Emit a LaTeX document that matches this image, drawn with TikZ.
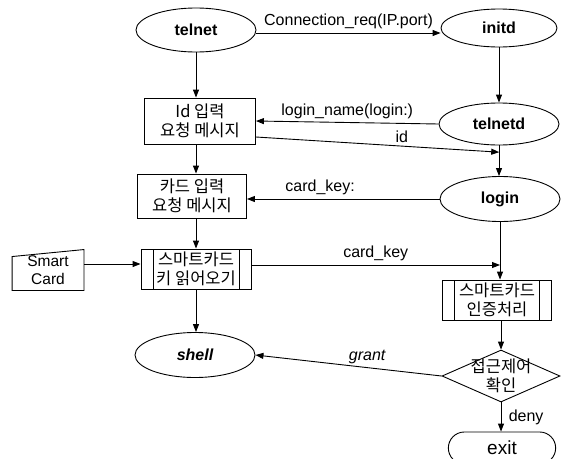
\documentclass[tikz,border=0pt]{standalone}
\usepackage{fontspec}
\setmainfont{Liberation Sans}
\newfontfamily\kr{Noto Sans CJK KR}
\usetikzlibrary{shapes.geometric,shapes.misc,arrows.meta,calc}

\begin{document}
\begin{tikzpicture}[x=1pt,y=-1pt,line width=0.9pt,
    every node/.style={font=\fontsize{16}{18}\selectfont},
    proc/.style={draw,ellipse,minimum width=120pt,minimum height=44pt,inner sep=0pt,
        font=\fontsize{16}{18}\selectfont\bfseries},
    msgbox/.style={draw,rectangle,align=center,inner sep=0pt,
        font=\fontsize{16.5}{19}\selectfont\kr},
    predef/.style={msgbox,path picture={
        \draw ([xshift=12pt]path picture bounding box.north west)
            -- ([xshift=12pt]path picture bounding box.south west)
            ([xshift=-12pt]path picture bounding box.north east)
            -- ([xshift=-12pt]path picture bounding box.south east);}},
    decision/.style={draw,diamond,minimum width=118pt,minimum height=52pt,inner sep=0pt},
    arr/.style={-{Triangle[length=8pt,width=6pt]}}
]
    \useasboundingbox (0,0) rectangle (567,458);

    \node[proc] (telnet) at (196,30) {telnet};
    \node[proc,minimum width=116pt,minimum height=38pt] (initd) at (499,28) {initd};
    \node[proc,minimum height=42pt] (telnetd) at (499,124) {telnetd};
    \node[proc,minimum height=45pt] (login) at (500,199) {login};
    \node[proc,minimum height=45pt,font=\fontsize{16}{18}\selectfont\bfseries\itshape] (shell) at (195,355) {shell};

    \node[msgbox,minimum width=111pt,minimum height=46pt] (idbox) at (200,121) {Id 입력\\요청 메시지};
    \node[msgbox,minimum width=109pt,minimum height=44pt] (cardbox) at (192,196) {카드 입력\\요청 메시지};
    \node[predef,minimum width=110pt,minimum height=40pt] (readbox) at (196,269) {스마트카드\\키 읽어오기};
    \node[predef,minimum width=109pt,minimum height=40pt] (authbox) at (497,300) {스마트카드\\인증처리};

    \node[decision,label={[font=\fontsize{16.5}{19}\selectfont\kr,align=center]center:접근제어\\확인}]
        (chk) at (501,376) {};
    \node[draw,rounded rectangle,minimum width=114pt,minimum height=32pt,
        font=\fontsize{19}{21}\selectfont] (exit) at (502,448) {exit};

    \node[minimum width=71pt,minimum height=40pt,align=center,inner sep=0pt,
        font=\fontsize{15.5}{18}\selectfont] (sc) at (48,270) {Smart\\Card};
    \draw (sc.south west) -- (sc.south east) -- (sc.north east)
        -- ([yshift=-7pt]sc.north west) -- cycle;

    \coordinate (idin) at ($(telnetd.south)!0.22!(login.north)$);
    \coordinate (ckin) at (login.south |- 0,265);

    \draw[arr] ([yshift=-3pt]telnet.east) -- node[above] {Connection\_req(IP.port)} ([yshift=-5pt]initd.west);
    \draw[arr] (initd) -- (initd.south |- telnetd.north);
    \draw[arr] (telnetd.west) -- node[above] {login\_name(login:)} (idbox.east);
    \draw[arr] ([yshift=-16pt]idbox.east) -- node[above,pos=0.6] {id} (idin);
    \draw[arr] (telnetd.south) -- (telnetd.south |- login.north);
    \draw[arr] (login.west) -- node[above,pos=0.62] {card\_key:} (cardbox.east |- login.west);
    \draw[arr] (login.south) -- (login.south |- authbox.north);
    \draw[arr] ([yshift=4pt]readbox.east) -- node[above] {card\_key} (ckin);

    \draw[arr] (telnet.south) -- (telnet.south |- idbox.north);
    \draw[arr] (idbox.south -| telnet.south) -- (cardbox.north -| telnet.south);
    \draw[arr] (cardbox.south -| telnet.south) -- (readbox.north -| telnet.south);
    \draw[arr] (sc.east |- 0,264) -- (readbox.west |- 0,264);
    \draw[arr] (readbox.south -| telnet.south) -- (shell.north -| telnet.south);

    \draw[arr] (authbox.south -| chk.north) -- (chk.north);
    \draw[arr] (chk.west) -- node[above,pos=0.4,font=\fontsize{16}{18}\selectfont\itshape] {grant} (shell.east);
    \draw[arr] (chk.south) -- node[right=4pt] {deny} (chk.south |- exit.north);
\end{tikzpicture}
\end{document}
